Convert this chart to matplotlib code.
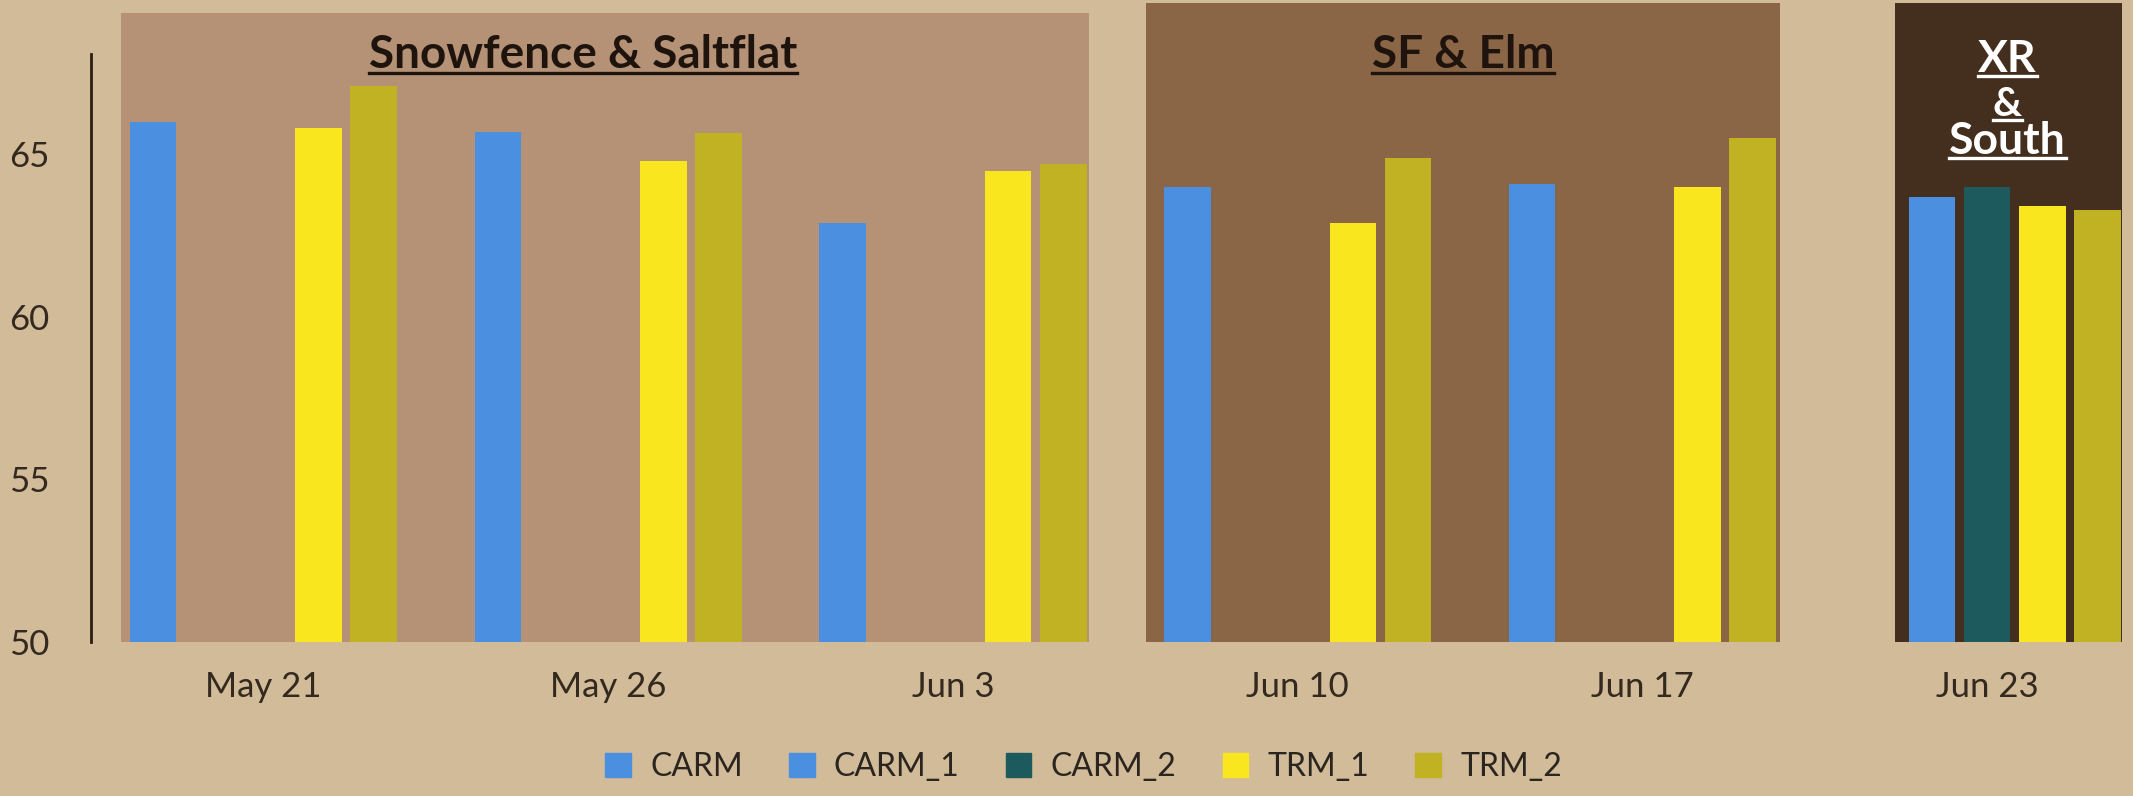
import numpy as np
import matplotlib.pyplot as plt
from matplotlib.patches import Rectangle, Patch
from matplotlib.lines import Line2D

# Данные
dates = ['May 21', 'May 26', 'Jun 3', 'Jun 10', 'Jun 17', 'Jun 23']
series = ['CARM', 'CARM_1', 'CARM_2', 'TRM_1', 'TRM_2']
carm = [66.0, 65.7, 62.9, 64.0, 64.1, np.nan]
carm_1 = [np.nan, np.nan, np.nan, np.nan, np.nan, 63.7]
carm_2 = [np.nan, np.nan, np.nan, np.nan, np.nan, 64.0]
trm_1 = [65.8, 64.8, 64.5, 62.9, 64.0, 63.4]
trm_2 = [67.1, 65.65, 64.7, 64.9, 65.5, 63.3]
values = [carm, carm_1, carm_2, trm_1, trm_2]
colors = ['#4A8FE0', '#4A8FE0', '#1D5A5E', '#F9E61F', '#C1B223']

section_names = ['Snowfence & Saltflat', 'SF & Elm', 'XR', '&', 'South']

plt.rcParams['font.family'] = ['Lato', 'DejaVu Sans']

bg = '#D1BB99'
W, H = 2133, 796
fig = plt.figure(figsize=(W / 100, H / 100), dpi=100, facecolor=bg)
ax = fig.add_axes([91 / W, 154 / H, 2041 / W, 643.5 / H])
ax.set_facecolor('none')
ax.set_xlim(-0.5, 5.42)
ax.set_ylim(50, 69.8)

# Фоновые панели по группам
ax.add_patch(Rectangle((-0.413, 50), 2.807, 19.35, color='#B59276', zorder=0, lw=0))
ax.add_patch(Rectangle((2.56, 50), 1.839, 19.65, color='#8B6646', zorder=0, lw=0))
ax.add_patch(Rectangle((4.734, 50), 0.658, 19.65, color='#442F1E', zorder=0, lw=0))

# Столбцы
x = np.arange(len(dates))
slot = 0.16
for k, (vals, c) in enumerate(zip(values, colors)):
    ax.bar(x + (k - 2) * slot, vals, width=0.135, color=c, zorder=2)

ax.set_xticks(x, dates)
ax.set_yticks([50, 55, 60, 65])
ax.tick_params(axis='both', length=0, labelsize=25, labelcolor='#33291F')
ax.tick_params(axis='x', pad=21)
ax.tick_params(axis='y', pad=30)
for s in ['top', 'right', 'bottom']:
    ax.spines[s].set_visible(False)
ax.spines['left'].set_color('#2B1D14')
ax.spines['left'].set_linewidth(2)
ax.spines['left'].set_bounds(50, 68.1)

# Подписи секций
labels = []
labels.append(ax.text(0.927, 68.05, section_names[0], ha='center', va='center',
                      fontsize=33, fontweight='bold', color='#1E140D', zorder=3))
labels.append(ax.text(3.479, 68.05, section_names[1], ha='center', va='center',
                      fontsize=33, fontweight='bold', color='#1E140D', zorder=3))
for name, yy, fs in zip(section_names[2:], [67.95, 66.55, 65.4], [32, 29, 32]):
    labels.append(ax.text(5.058, yy, name, ha='center', va='center',
                          fontsize=fs, fontweight='bold', color='white', zorder=3))

fig.canvas.draw()
r = fig.canvas.get_renderer()
for t in labels:
    bb = t.get_window_extent(r)
    y0 = bb.y0 + 3
    fig.add_artist(Line2D([bb.x0 / W, bb.x1 / W], [y0 / H, y0 / H],
                          color=t.get_color(), lw=2.4))

handles = [Patch(color=c, label=s) for s, c in zip(series, colors)]
fig.legend(handles=handles, loc='center', bbox_to_anchor=(0.508, 29 / H), ncol=5,
           frameon=False, fontsize=23, handlelength=0.8, handleheight=0.8,
           handletextpad=0.6, columnspacing=1.45, labelcolor='#2B2520')

plt.savefig('out.png', dpi=100, facecolor=bg)
